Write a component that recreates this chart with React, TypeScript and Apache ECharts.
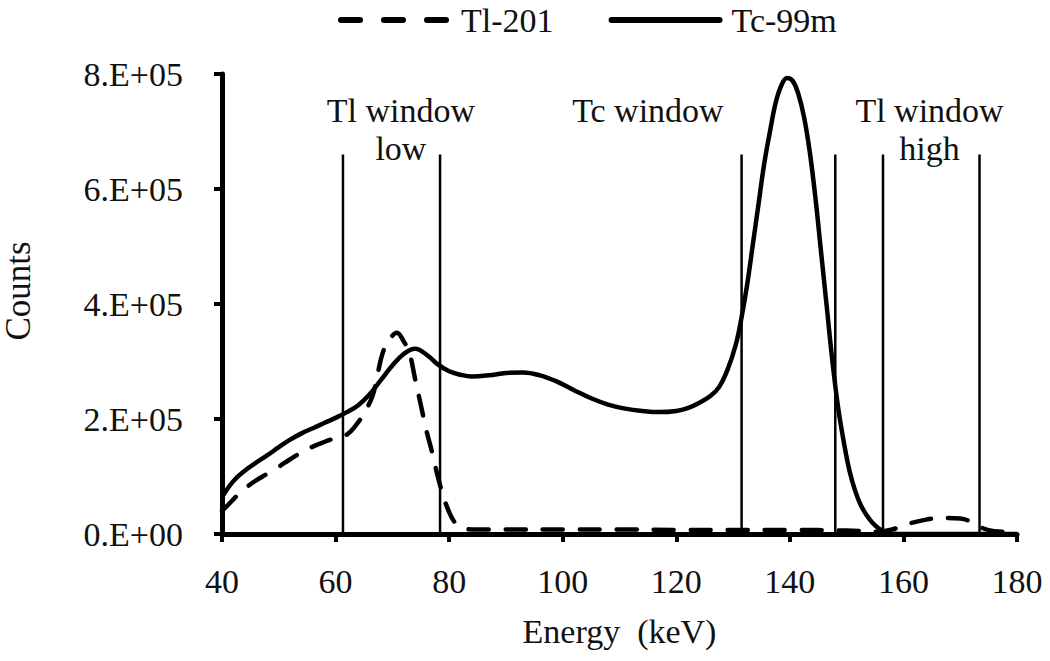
import React, { useEffect, useRef } from "react";
import * as echarts from "echarts";

// ---- data ----
const tcEnergy = [40, 42, 44, 46, 48, 50, 52, 54, 56, 58, 60, 62, 64, 66, 68, 70, 72, 74, 76, 78, 80, 82, 84, 87, 90, 93, 96, 99, 102, 105, 108, 111, 114, 117, 120, 122, 124, 126, 127.5, 129, 130.5, 131.5, 132.5, 133.5, 134.5, 135.5, 136.5, 137.5, 138.5, 139.5, 140.5, 141.5, 142.5, 143.5, 144.5, 145.5, 146.5, 147.5, 148.5, 149.5, 150.5, 151.5, 152.5, 153.5, 154.5, 155.5, 156.5, 158, 160, 170, 180];
const tcCounts = [64000, 92000, 110000, 124000, 137000, 151000, 164000, 175000, 184000, 193000, 202000, 212000, 224000, 243000, 268000, 293000, 313000, 322000, 312000, 295000, 283000, 277000, 274000, 276000, 280000, 281000, 276000, 265000, 250000, 236000, 225000, 218000, 214000, 212000, 214000, 219000, 228000, 240000, 255000, 285000, 330000, 377000, 435000, 505000, 575000, 645000, 700000, 750000, 780000, 793000, 788000, 765000, 725000, 665000, 585000, 490000, 395000, 300000, 220000, 160000, 110000, 75000, 50000, 33000, 20000, 11000, 5000, 1000, 0, 0, 0];

const tlEnergy = [40, 41, 43, 45.5, 48, 50, 52, 54, 56, 58, 60, 62, 63.5, 65, 66.5, 67.3, 68.3, 69.5, 70.8, 72, 73, 74, 75, 76, 77, 78, 79, 80, 81, 82, 84, 90, 100, 110, 120, 130, 140, 150, 155, 158, 161, 164, 167, 170, 172, 174, 176, 180];
const tlCounts = [40000, 50000, 70000, 90000, 105000, 117000, 130000, 142000, 152000, 160000, 167000, 173000, 188000, 210000, 240000, 273000, 315000, 338000, 350000, 335000, 315000, 270000, 225000, 180000, 142000, 100000, 65000, 38000, 20000, 12000, 8000, 8000, 8000, 8000, 7000, 7000, 7000, 6000, 4000, 8000, 18000, 25000, 28000, 27000, 21000, 10000, 5000, 3000];

const windowEdges = [61.3, 78.4, 131.5, 148, 156.4, 173.4];
const windowTop = 660000;
const windowLabels = ["Tl window\nlow", "Tc window", "Tl window\nhigh"];
const windowLabelEnergy = [71.5, 115, 164.6];
const windowLabelCounts = [704000, 737000, 704000];

const xTicks = [40, 60, 80, 100, 120, 140, 160, 180];
const yTickLabels = ["0.E+00", "2.E+05", "4.E+05", "6.E+05", "8.E+05"];

const FONT = "'Liberation Serif', 'Times New Roman', serif";
const TXT = "#111";

export default function App() {
  const ref = useRef<HTMLDivElement>(null);
  useEffect(() => {
    if (!ref.current) return;
    const chart = echarts.init(ref.current, undefined, { renderer: "svg" });
    const windowSeries = windowEdges.map((x, i) => ({
      name: "win" + i,
      type: "line",
      data: [[x, 0], [x, windowTop]],
      symbol: "none",
      silent: true,
      lineStyle: { color: "#000", width: 2.5 },
      z: 1,
    }));
    chart.setOption({
      animation: false,
      backgroundColor: "#fff",
      textStyle: { fontFamily: FONT },
      grid: { left: 222, right: 33, top: 74, bottom: 127, outerBoundsMode: "none", containLabel: false },
      legend: {
        data: [
          { name: "Tl-201", lineStyle: { color: "#000", width: 6, type: [19, 24], cap: "round" } },
          { name: "Tc-99m", lineStyle: { color: "#000", width: 6, type: "solid", cap: "round" } },
        ],
        left: 333,
        top: -2,
        itemWidth: 108,
        itemHeight: 30,
        itemGap: 55,
        itemStyle: { opacity: 0, color: "rgba(0,0,0,0)", borderWidth: 0 },
        textStyle: { fontFamily: FONT, fontSize: 34, color: TXT, padding: [0, 0, 0, 7] },
      },
      xAxis: {
        type: "value",
        min: 40,
        max: 180,
        interval: 20,
        name: "Energy  (keV)",
        nameLocation: "middle",
        nameGap: 80,
        nameTextStyle: { fontFamily: FONT, fontSize: 34, color: TXT },
        axisLine: { lineStyle: { color: "#000", width: 5 } },
        axisTick: { show: true, length: 8, lineStyle: { color: "#000", width: 4 } },
        axisLabel: {
          fontFamily: FONT,
          fontSize: 34,
          color: TXT,
          margin: 30,
          formatter: (v: number) => (xTicks.includes(v) ? String(v) : ""),
        },
        splitLine: { show: false },
      },
      yAxis: {
        type: "value",
        min: 0,
        max: 800000,
        interval: 200000,
        name: "Counts",
        nameLocation: "middle",
        nameGap: 186,
        nameTextStyle: { fontFamily: FONT, fontSize: 35, color: TXT, padding: [0, 0, 0, 26] },
        axisLine: { show: true, lineStyle: { color: "#000", width: 5 } },
        axisTick: { show: true, length: 8, lineStyle: { color: "#000", width: 4 } },
        axisLabel: {
          fontFamily: FONT,
          fontSize: 34,
          color: TXT,
          margin: 39,
          formatter: (v: number) => yTickLabels[Math.round(v / 200000)] ?? "",
        },
        splitLine: { show: false },
      },
      series: [
        {
          name: "Tl-201",
          type: "line",
          data: tlEnergy.map((e, i) => [e, tlCounts[i]]),
          symbol: "none",
          smooth: 0.4,
          lineStyle: { color: "#000", width: 4.5, type: [20, 17], cap: "round" },
          itemStyle: { color: "#000" },
          z: 3,
        },
        {
          name: "Tc-99m",
          type: "line",
          data: tcEnergy.map((e, i) => [e, tcCounts[i]]),
          symbol: "none",
          smooth: 0.4,
          lineStyle: { color: "#000", width: 4.5, type: "solid" },
          itemStyle: { color: "#000" },
          z: 4,
        },
        ...windowSeries,
        {
          name: "labels",
          type: "scatter",
          silent: true,
          symbolSize: 1,
          itemStyle: { color: "#fff", opacity: 1 },
          data: windowLabelEnergy.map((e, i) => ({ value: [e, windowLabelCounts[i]], name: windowLabels[i] })),
          label: {
            show: true,
            position: "inside",
            formatter: (p: any) => p.name,
            fontFamily: FONT,
            fontSize: 34,
            lineHeight: 38,
            color: TXT,
            opacity: 1,
            textBorderWidth: 0,
            align: "center",
            verticalAlign: "middle",
          },
          z: 5,
        },
      ],
    });
    return () => chart.dispose();
  }, []);
  return (
    <div
      ref={ref}
      style={{ position: "fixed", left: 0, top: 0, width: 1050, height: 661, background: "#fff" }}
    />
  );
}
